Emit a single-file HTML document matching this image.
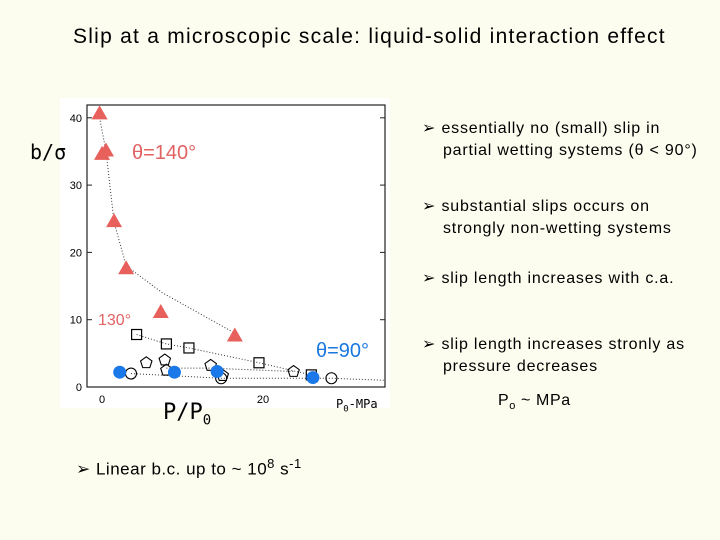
<!DOCTYPE html>
<html><head><meta charset="utf-8"><style>
body{margin:0;width:720px;height:540px;background:#fcfcef;position:relative;overflow:hidden;font-family:"Liberation Sans",Arial,sans-serif}
.t{position:absolute;white-space:nowrap;color:#000}
.b{font-size:16px;line-height:22px;letter-spacing:0.8px}
</style></head><body>
<div class="t" style="left:73px;top:25px;font-size:21px;letter-spacing:1.25px">Slip at a microscopic scale: liquid-solid interaction effect</div>
<svg id="chart" width="720" height="540" style="position:absolute;left:0;top:0">
<rect x="60" y="98" width="330" height="310" fill="#ffffff"/>
</svg>
<div class="t" style="left:30px;top:140px;font-size:20px;font-family:'DejaVu Sans Mono',monospace">b/σ</div>
<div class="t" style="left:163px;top:400px;font-size:22px;font-family:'DejaVu Sans Mono',monospace">P/P<sub style="font-size:14px">0</sub></div>
<div class="t" style="left:336px;top:397px;font-size:12px;font-family:'DejaVu Sans Mono',monospace">P<sub style="font-size:9px">0</sub>-MPa</div>
<div class="t" style="left:132px;top:142px;font-size:20px;color:#e26262">θ=140°</div>
<div class="t" style="left:98px;top:312px;font-size:16px;color:#e26262">130°</div>
<div class="t" style="left:316px;top:340px;font-size:20px;color:#1a78e0">θ=90°</div>
<div class="t b" style="left:422px;top:118px">➢ essentially no (small) slip in<br>&nbsp;&nbsp;&nbsp;&nbsp;partial wetting systems (θ &lt; 90°)</div>
<div class="t b" style="left:422px;top:196px">➢ substantial slips occurs on<br>&nbsp;&nbsp;&nbsp;&nbsp;strongly non-wetting systems</div>
<div class="t b" style="left:422px;top:268px">➢ slip length increases with c.a.</div>
<div class="t b" style="left:422px;top:334px">➢ slip length increases stronly as<br>&nbsp;&nbsp;&nbsp;&nbsp;pressure decreases</div>
<div class="t" style="left:498px;top:392px;font-size:16px;letter-spacing:0.6px">P<sub style="font-size:11px">o</sub> ~ MPa</div>
<div class="t" style="left:76px;top:456px;font-size:17px;letter-spacing:0.5px">➢ Linear b.c. up to ~ 10<sup style="font-size:13px">8</sup> s<sup style="font-size:13px">-1</sup></div>
<script>
const triX=[-0.3,0,0.5,1.5,3,7.3,16.5], triY=[40.5,34.5,35,24.5,17.5,11,7.5];
const triLineX=[-0.3,0.5,1.5,3,7.5,16.5], triLineY=[40,35,24.5,18,14,8];
const sqX=[4.3,8,10.8,19.5,26], sqY=[7.8,6.4,5.8,3.6,1.8];
const penX=[5.5,7.8,8,13.5,15,23.8], penY=[3.6,4,2.5,3.2,1.7,2.3];
const ocX=[3.6,14.8,28.5], ocY=[2,1.3,1.3];
const bcX=[2.2,9,14.3,26.2], bcY=[2.2,2.2,2.3,1.4];
const yTicks=[0,10,20,30,40], xTicks=[0,20];
const sx=v=>102+v*8.05, sy=v=>387-v*6.73;
const svg=document.getElementById('chart'), NS='http://www.w3.org/2000/svg';
function mk(t,a){const e=document.createElementNS(NS,t);for(const k in a)e.setAttribute(k,a[k]);svg.appendChild(e);return e;}
let f=mk('rect',{x:87,y:105,width:298,height:282,fill:'none',stroke:'#222','stroke-width':1.2});


yTicks.forEach(v=>{
 let l=mk('line',{x1:87,x2:92,y1:sy(v),y2:sy(v),stroke:'#222'});
 
 
 mk('line',{x1:380,x2:385,y1:sy(v),y2:sy(v),stroke:'#222'});
 let t=mk('text',{x:82,y:sy(v)+4,'font-size':11,'text-anchor':'end','font-family':'Liberation Sans'});t.textContent=v;
 
 
});
xTicks.forEach(v=>{
 let t=mk('text',{x:sx(v),y:403,'font-size':11,'text-anchor':'middle','font-family':'Liberation Sans'});t.textContent=v;
 
 
});
function line(xs,ys,name){let p=mk('polyline',{points:xs.map((x,i)=>sx(x)+','+sy(ys[i])).join(' '),fill:'none',stroke:'#333','stroke-width':1,'stroke-dasharray':'1,2'});
 
 }
line(triLineX,triLineY,'line-140');
line(sqX,sqY,'line-130');
line([3.6,14.8,28.5,35],[2,1.3,1.3,1],'line-90');
line([8,13.5,23.8],[2.8,2.8,2.3],'line-pentagon');
triX.forEach((x,i)=>{const X=sx(x),Y=sy(triY[i]);
 let e=mk('polygon',{points:`${X},${Y-9} ${X-8},${Y+5} ${X+8},${Y+5}`,fill:'#e8605c'});
 
 });
sqX.forEach((x,i)=>{let e=mk('rect',{x:sx(x)-5,y:sy(sqY[i])-5,width:10,height:10,fill:'none',stroke:'#000','stroke-width':1.2});
 
 });
penX.forEach((x,i)=>{const X=sx(x),Y=sy(penY[i]);let pts=[];for(let k=0;k<5;k++){const a=-Math.PI/2+k*2*Math.PI/5;pts.push((X+6*Math.cos(a))+','+(Y+6*Math.sin(a)));}
 let e=mk('polygon',{points:pts.join(' '),fill:'none',stroke:'#000','stroke-width':1.1});
 
 });
ocX.forEach((x,i)=>{let e=mk('circle',{cx:sx(x),cy:sy(ocY[i]),r:5.5,fill:'none',stroke:'#000','stroke-width':1.1});
 
 });
bcX.forEach((x,i)=>{let e=mk('circle',{cx:sx(x),cy:sy(bcY[i]),r:6.5,fill:'#1a78e8'});
 
 });
</script>
</body></html>
